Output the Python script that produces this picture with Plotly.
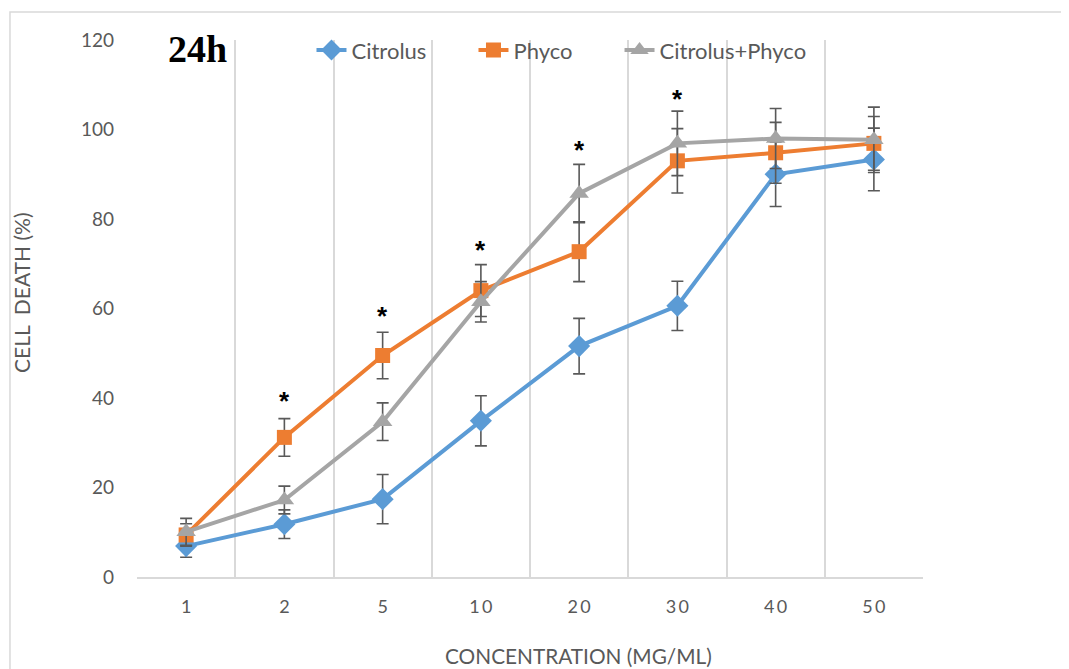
import plotly.graph_objects as go

categories = ["1", "2", "5", "10", "20", "30", "40", "50"]
tick_labels = ["1", "2", "5", "1\u20090", "2\u20090", "3\u20090", "4\u20090", "5\u20090"]

citrolus = [6.9, 11.8, 17.4, 34.9, 51.6, 60.6, 90.0, 93.3]
citrolus_err = [2.5, 3.2, 5.5, 5.6, 6.2, 5.5, 7.2, 7.0]

phyco = [9.4, 31.2, 49.5, 64.0, 72.7, 93.0, 94.8, 96.9]
phyco_err = [2.5, 4.2, 5.2, 5.8, 6.7, 7.2, 6.8, 6.0]

combo = [10.1, 17.2, 34.7, 61.5, 85.7, 96.9, 98.0, 97.7]
combo_err = [3.0, 3.1, 4.2, 4.5, 6.5, 7.2, 6.7, 7.3]

star_cats = ["2", "5", "10", "20", "30"]
star_y = [40.0, 59.0, 73.8, 96.2, 107.5]

x_title = "CONCENTRATION (MG/ML)"
y_title = "CELL  DEATH (%)"

GREY_TXT = "#595959"
FONT = "Lato"

fig = go.Figure()

series = [
    ("Citrolus", citrolus, citrolus_err, "#5B9BD5", "diamond", 17, "legend"),
    ("Phyco", phyco, phyco_err, "#ED7D31", "square", 15, "legend2"),
    ("Citrolus+Phyco", combo, combo_err, "#A5A5A5", "triangle-up", 17, "legend3"),
]
for name, vals, errs, color, sym, size, leg in series:
    fig.add_trace(go.Scatter(
        x=categories, y=vals, name=name, mode="lines+markers",
        line=dict(color=color, width=4),
        marker=dict(symbol=sym, size=size, color=color),
        error_y=dict(type="data", array=errs, visible=True,
                     color="#595959", thickness=1.6, width=6),
        legend=leg,
    ))

for c, yv in zip(star_cats, star_y):
    fig.add_annotation(x=categories.index(c), y=yv, text="<b>*</b>", showarrow=False,
                       xanchor="center", yanchor="middle",
                       font=dict(family="Liberation Sans", size=26, color="#000000"),
                       yshift=-3)

fig.add_annotation(xref="paper", yref="paper", x=0.0776, y=0.983, text="<b>24h</b>",
                   showarrow=False, xanchor="center", yanchor="middle",
                   font=dict(family="Liberation Serif", size=38, color="#000000"))

# axis titles (offset from plot centre as in the reference)
fig.add_annotation(xref="paper", yref="paper", x=0.5623, y=-0.1453, text=x_title,
                   showarrow=False, xanchor="center", yanchor="middle",
                   font=dict(family=FONT, size=20.8, color=GREY_TXT))
fig.add_annotation(xref="paper", yref="paper", x=-0.1463, y=0.5289, text=y_title,
                   showarrow=False, xanchor="center", yanchor="middle", textangle=-90,
                   font=dict(family=FONT, size=21, color=GREY_TXT))

# outer chart border (partly cropped in reference)
fig.add_shape(type="rect", xref="paper", yref="paper",
              x0=-0.1616, x1=1.3, y0=-0.3, y1=1.052,
              line=dict(color="#d9d9d9", width=1.5), layer="below")

leg_common = dict(orientation="h", yanchor="middle", xanchor="left", y=0.981,
                  font=dict(size=22, color=GREY_TXT, family=FONT),
                  bgcolor="rgba(0,0,0,0)", itemwidth=30)

fig.update_layout(
    width=1061, height=661,
    margin=dict(l=129, r=146, t=32, b=92),
    paper_bgcolor="white", plot_bgcolor="white",
    font=dict(family=FONT, color=GREY_TXT),
    showlegend=True,
    legend=dict(x=0.2220, **leg_common),
    legend2=dict(x=0.4281, **leg_common),
    legend3=dict(x=0.6139, **leg_common),
    xaxis=dict(
        type="category", categoryorder="array", categoryarray=categories,
        tickvals=categories, ticktext=tick_labels,
        range=[-0.5, 7.5], tickson="boundaries", automargin=False,
        showgrid=True, gridcolor="#d9d9d9", gridwidth=1.5,
        showline=True, linecolor="#d9d9d9", linewidth=1.5,
        ticks="", ticklabelstandoff=13, zeroline=False,
        tickfont=dict(size=18, color=GREY_TXT, family=FONT),
    ),
    yaxis=dict(
        range=[0, 120], dtick=20, tick0=0, automargin=False,
        showgrid=False, zeroline=False, showline=False,
        ticks="", ticklabelstandoff=22,
        tickfont=dict(size=19, color=GREY_TXT, family=FONT),
    ),
)

fig.write_html("out.html")
